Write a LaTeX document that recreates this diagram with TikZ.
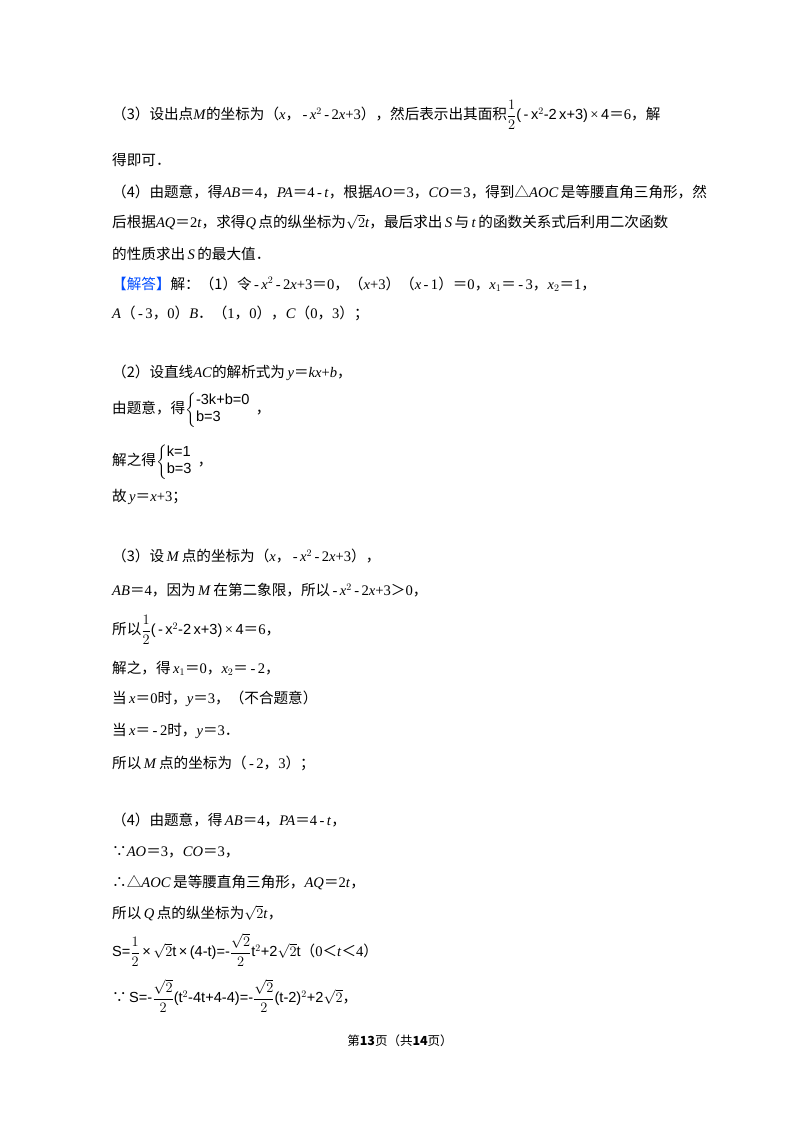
\documentclass[tikz,border=0pt]{standalone}
\usepackage{amsmath}
\usepackage{fontspec}
\setmainfont{Liberation Serif}
\newfontfamily\cjk{Noto Sans CJK SC}
\newfontfamily\fsans{Liberation Sans}
\newcommand{\zh}[1]{{\cjk #1}}
\newcommand{\mi}[1]{\textit{#1}}
\begin{document}
\begin{tikzpicture}[x=1pt,y=-1pt,every node/.style={anchor=west,inner sep=0pt,font=\fontsize{14.6}{17}\selectfont}]
\useasboundingbox (0,0) rectangle (800,1132);
\fill[white] (0,0) rectangle (800,1132);
\node (l1) at (112,115) {\zh{（3）设出点}\mi{M}\zh{的坐标为（}\mi{x}\zh{，}\,-\,\mi{x}$^{2}$\,-\,2\mi{x}+3\zh{），然后表示出其面积}{\fsans$\dfrac12$(\,-\,x$^2$-2\,x+3)}\,×\,{\fsans 4}\zh{＝}6\zh{，解}};
\node (l2) at (112,160) {\zh{得即可．}};
\node (l3) at (112,192) {\zh{（4）由题意，得}\mi{AB}\zh{＝}4\zh{，}\mi{PA}\zh{＝}4\,-\,\mi{t}\zh{，根据}\mi{AO}\zh{＝}3\zh{，}\mi{CO}\zh{＝}3\zh{，得到△}\mi{AOC}\,\zh{是等腰直角三角形，然}};
\node (l4) at (112,222) {\zh{后根据}\mi{AQ}\zh{＝}2\mi{t}\zh{，求得}\mi{Q}\,\zh{点的纵坐标为}$\sqrt{2}$\mi{t}\zh{，最后求出}\,\mi{S}\,\zh{与}\,\mi{t}\,\zh{的函数关系式后利用二次函数}};
\node (l5) at (112,254) {\zh{的性质求出}\,\mi{S}\,\zh{的最大值．}};
\node (l6) at (112,284) {\zh{\textcolor{blue!70!cyan}{【解答】}解：（1）令}\,-\,\mi{x}$^{2}$\,-\,2\mi{x}+3\zh{＝}0\zh{，（}\mi{x}+3\zh{）（}\mi{x}\,-\,1\zh{）＝}0\zh{，}\mi{x}$_{1}$\zh{＝}\,-\,3\zh{，}\mi{x}$_{2}$\zh{＝}1\zh{，}};
\node (l7) at (112,313) {\mi{A}\zh{（}\,-\,3\zh{，}0\zh{）}\mi{B}\zh{．（}1\zh{，}0\zh{），}\mi{C}\zh{（}0\zh{，}3\zh{）；}};
\node (l8) at (112,373) {\zh{（2）设直线}\mi{AC}\zh{的解析式为}\,\mi{y}\zh{＝}\mi{kx}+\mi{b}\zh{，}};
\node (l9) at (112,410) {\zh{由题意，得}{\fsans$\left\{\begin{array}{@{}l}\text{-3k+b=0}\\ \text{b=3}\end{array}\right.$}\zh{，}};
\node (l10) at (112,462) {\zh{解之得}{\fsans$\left\{\begin{array}{@{}l}\text{k=1}\\ \text{b=3}\end{array}\right.$}\zh{，}};
\node (l11) at (112,497) {\zh{故}\,\mi{y}\zh{＝}\mi{x}+3\zh{；}};
\node (l12) at (112,556) {\zh{（3）设}\,\mi{M}\,\zh{点的坐标为（}\mi{x}\zh{，}\,-\,\mi{x}$^{2}$\,-\,2\mi{x}+3\zh{），}};
\node (l13) at (112,590) {\mi{AB}\zh{＝}4\zh{，因为}\,\mi{M}\,\zh{在第二象限，所以}\,-\,\mi{x}$^{2}$\,-\,2\mi{x}+3\zh{＞}0\zh{，}};
\node (l14) at (112,630) {\zh{所以}{\fsans$\dfrac12$(\,-\,x$^2$-2\,x+3)}\,×\,{\fsans 4}\zh{＝}6\zh{，}};
\node (l15) at (112,668) {\zh{解之，得}\,\mi{x}$_{1}$\zh{＝}0\zh{，}\mi{x}$_{2}$\zh{＝}\,-\,2\zh{，}};
\node (l16) at (112,699) {\zh{当}\,\mi{x}\zh{＝}0\zh{时，}\mi{y}\zh{＝}3\zh{，（不合题意）}};
\node (l17) at (112,731) {\zh{当}\,\mi{x}\zh{＝}\,-\,2\zh{时，}\mi{y}\zh{＝}3\zh{．}};
\node (l18) at (112,763) {\zh{所以}\,\mi{M}\,\zh{点的坐标为（}\,-\,2\zh{，}3\zh{）；}};
\node (l19) at (112,820) {\zh{（4）由题意，得}\,\mi{AB}\zh{＝}4\zh{，}\mi{PA}\zh{＝}4\,-\,\mi{t}\zh{，}};
\node (l20) at (112,852) {\zh{∵}\mi{AO}\zh{＝}3\zh{，}\mi{CO}\zh{＝}3\zh{，}};
\node (l21) at (112,883) {\zh{∴△}\mi{AOC}\,\zh{是等腰直角三角形，}\mi{AQ}\zh{＝}2\mi{t}\zh{，}};
\node (l22) at (112,913) {\zh{所以}\,\mi{Q}\,\zh{点的纵坐标为}$\sqrt{2}$\mi{t}\zh{，}};
\node (l23) at (112,950) {{\fsans S=$\dfrac12$\,×\,$\sqrt{2}$t\,×\,(4-t)=-$\dfrac{\sqrt{2}}{2}$t$^{2}$+2$\sqrt{2}$t}\zh{（}0\zh{＜}\mi{t}\zh{＜}4\zh{）}};
\node (l24) at (112,996) {\zh{∵}\,{\fsans S=-$\dfrac{\sqrt{2}}{2}$(t$^{2}$-4t+4-4)=-$\dfrac{\sqrt{2}}{2}$(t-2)$^{2}$+2$\sqrt{2}$}\zh{，}};
\node[anchor=center,font=\fontsize{12.5}{14}\selectfont] (ft) at (400,1041) {\zh{第\textbf{13}页（共\textbf{14}页）}};
\end{tikzpicture}
\end{document}
